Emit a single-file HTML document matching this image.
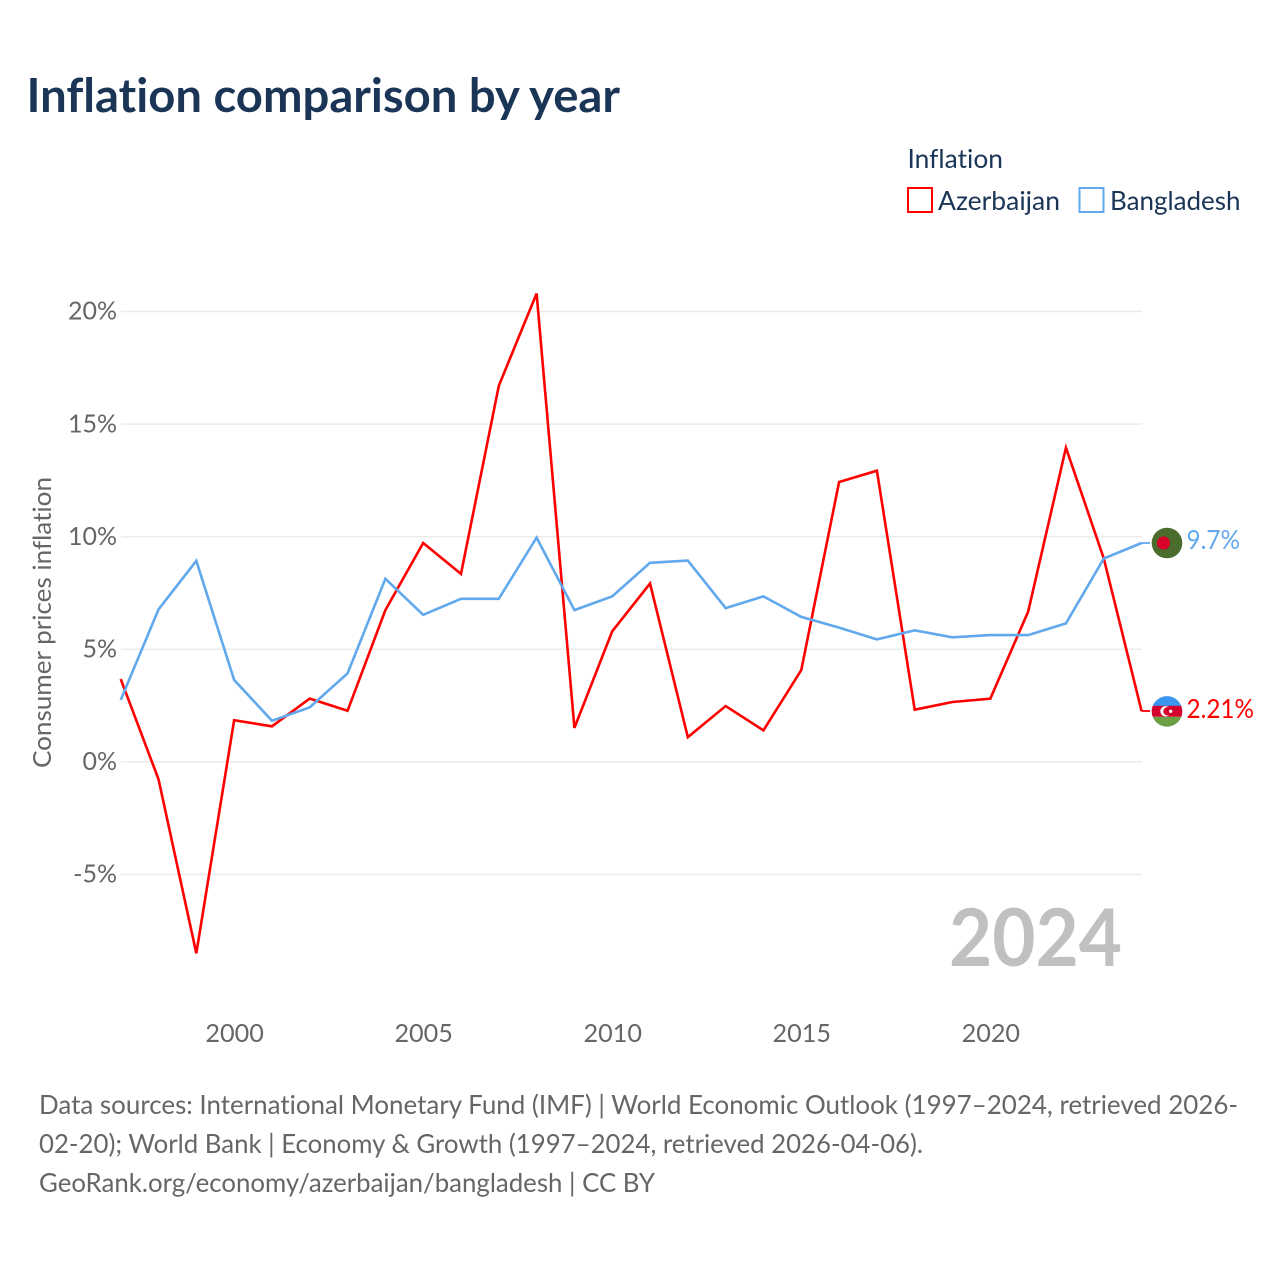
<!DOCTYPE html>
<html lang="en">
<head>
<meta charset="utf-8">
<title>Inflation comparison by year</title>
<style>
html,body{margin:0;padding:0;background:#fff;}
svg{display:block;font-family:"Lato","Carlito","Liberation Sans",sans-serif;font-variant-ligatures:none;font-feature-settings:"liga" 0;}
</style>
</head>
<body>
<svg id="chart" xmlns="http://www.w3.org/2000/svg" width="1280" height="1280" viewBox="0 0 1280 1280">
  <rect x="0" y="0" width="1280" height="1280" fill="#ffffff"/>
  <text x="26.500" y="112" font-size="47" font-weight="700" fill="#1b3557" textLength="593.500" lengthAdjust="spacingAndGlyphs">Inflation comparison by year</text>

  <g>
    <text x="907.500" y="168" font-size="26.500" fill="#1b3557" textLength="95.500" lengthAdjust="spacingAndGlyphs">Inflation</text>
    <rect x="908" y="188" width="24" height="24" fill="none" stroke="#ff0000" stroke-width="2"/>
    <text x="938" y="210" font-size="26.500" fill="#1b3557" textLength="122" lengthAdjust="spacingAndGlyphs">Azerbaijan</text>
    <rect x="1079.500" y="188" width="24" height="24" fill="none" stroke="#62a8ec" stroke-width="2"/>
    <text x="1110" y="210" font-size="26.500" fill="#1b3557" textLength="130.500" lengthAdjust="spacingAndGlyphs">Bangladesh</text>
  </g>

  <text transform="translate(51,768) rotate(-90)" x="0" y="0" font-size="25.500" fill="#666666" textLength="291" lengthAdjust="spacingAndGlyphs">Consumer prices inflation</text>

  <g id="grid"></g>
  <g id="y-ticks"></g>
  <g id="x-ticks"></g>

  <text x="949" y="966" font-size="80" font-weight="700" fill="#c0c0c0" textLength="173" lengthAdjust="spacingAndGlyphs">2024</text>

  <g id="series"></g>
  <g id="end-markers"></g>

  <g font-size="26" fill="#666666">
    <text x="39" y="1114" textLength="1199" lengthAdjust="spacingAndGlyphs">Data sources: International Monetary Fund (IMF) | World Economic Outlook (1997–2024, retrieved 2026-</text>
    <text x="39" y="1153" textLength="884" lengthAdjust="spacingAndGlyphs">02-20); World Bank | Economy &amp; Growth (1997–2024, retrieved 2026-04-06).</text>
    <text x="39" y="1192" textLength="616" lengthAdjust="spacingAndGlyphs">GeoRank.org/economy/azerbaijan/bangladesh | CC BY</text>
  </g>
</svg>
<script>
const years = [1997,1998,1999,2000,2001,2002,2003,2004,2005,2006,2007,2008,2009,2010,2011,2012,2013,2014,2015,2016,2017,2018,2019,2020,2021,2022,2023,2024];
const azerbaijan = [3.68,-0.77,-8.5,1.85,1.58,2.81,2.27,6.74,9.72,8.35,16.7,20.8,1.51,5.8,7.92,1.1,2.48,1.4,4.08,12.43,12.93,2.32,2.66,2.81,6.67,13.95,9.04,2.26];
const bangladesh = [2.75,6.77,8.93,3.64,1.83,2.42,3.93,8.13,6.53,7.24,7.24,9.96,6.74,7.35,8.84,8.94,6.83,7.35,6.44,5.96,5.44,5.84,5.53,5.63,5.63,6.15,9.03,9.72];
const yTickValues = [-5,0,5,10,15,20];
const yTickLabels = ["-5%","0%","5%","10%","15%","20%"];
const xTickValues = [2000,2005,2010,2015,2020];
const xTickLabels = ["2000","2005","2010","2015","2020"];
const azerbaijanEndLabel = "2.21%";
const bangladeshEndLabel = "9.7%";

const NS = "http://www.w3.org/2000/svg";
function xScale(year){ return 120.7 + (year - 1997) * 37.81; }
function yScale(v){ return 761.9 - v * 22.52; }
function make(tag, parent, attrs){
  const el = document.createElementNS(NS, tag);
  for (const k in attrs) el.setAttribute(k, attrs[k]);
  parent.appendChild(el);
  return el;
}
const gridG = document.getElementById("grid");
const yG = document.getElementById("y-ticks");
const xG = document.getElementById("x-ticks");
const seriesG = document.getElementById("series");
const endG = document.getElementById("end-markers");

yTickValues.forEach(function(v, i){
  const line = make("line", gridG, {x1:121, x2:1142, y1:yScale(v), y2:yScale(v), stroke:"#ebebeb", "stroke-width":1.5});
  
  
  const label = yTickLabels[i];
  const t = make("text", yG, {x:117, y:yScale(v)+8.2, "text-anchor":"end", "font-size":25, fill:"#666666"});
  
  
  t.textContent = label;
});
xTickValues.forEach(function(v, i){
  const t = make("text", xG, {x:xScale(v)+0.5, y:1042, "text-anchor":"middle", "font-size":25.2, fill:"#666666"});
  
  
  t.textContent = xTickLabels[i];
});

function linePoints(values){
  return values.map(function(v, i){ return xScale(years[i]).toFixed(2) + "," + yScale(v).toFixed(2); }).join(" ");
}
const azLine = make("polyline", seriesG, {points:linePoints(azerbaijan), fill:"none", stroke:"#ff0000", "stroke-width":2.6, "stroke-linejoin":"miter"});


const bdLine = make("polyline", seriesG, {points:linePoints(bangladesh), fill:"none", stroke:"#62a8ec", "stroke-width":2.6, "stroke-linejoin":"miter"});



const defs = make("defs", endG, {});
const xLast = xScale(years[years.length - 1]);
const fx = 1167;
const yAz = yScale(azerbaijan[azerbaijan.length - 1]);
const yBd = yScale(bangladesh[bangladesh.length - 1]);

const azClip = make("clipPath", defs, {id:"az-clip"});
make("circle", azClip, {cx:fx, cy:yAz+0.4, r:15.3});
const bdClip = make("clipPath", defs, {id:"bd-clip"});
make("circle", bdClip, {cx:fx, cy:yBd, r:15.3});

const azLeader = make("line", endG, {x1:xLast, x2:1150, y1:yAz, y2:yAz, stroke:"#ff0000", "stroke-width":1.8});


const bdLeader = make("line", endG, {x1:xLast, x2:1150, y1:yBd, y2:yBd, stroke:"#62a8ec", "stroke-width":1.8});



const bdFlag = make("g", endG, {"clip-path":"url(#bd-clip)"});


make("rect", bdFlag, {x:fx-16, y:yBd-16, width:32, height:32, fill:"#4a6d2d"});
make("circle", bdFlag, {cx:fx-3.5, cy:yBd, r:6.6, fill:"#d8002a"});

const azFlag = make("g", endG, {"clip-path":"url(#az-clip)"});


make("rect", azFlag, {x:fx-16, y:yAz-16, width:32, height:11, fill:"#3b96f2"});
make("rect", azFlag, {x:fx-16, y:yAz-5.2, width:32, height:11, fill:"#d5002c"});
make("rect", azFlag, {x:fx-16, y:yAz+5.8, width:32, height:11, fill:"#6d9f44"});
make("circle", azFlag, {cx:fx-1.5, cy:yAz+0.3, r:5.2, fill:"#ffffff"});
make("circle", azFlag, {cx:fx+0.5, cy:yAz+0.3, r:4.2, fill:"#d5002c"});
make("circle", azFlag, {cx:fx+3.7, cy:yAz+0.3, r:1.7, fill:"#ffffff"});

const azText = make("text", endG, {x:1186.5, y:yAz+7, "font-size":26, fill:"#ff0000", textLength:67.5, lengthAdjust:"spacingAndGlyphs"});


azText.textContent = azerbaijanEndLabel;
const bdText = make("text", endG, {x:1186.5, y:yBd+5.8, "font-size":26, fill:"#62a8ec", textLength:53.5, lengthAdjust:"spacingAndGlyphs"});


bdText.textContent = bangladeshEndLabel;
</script>
</body>
</html>
